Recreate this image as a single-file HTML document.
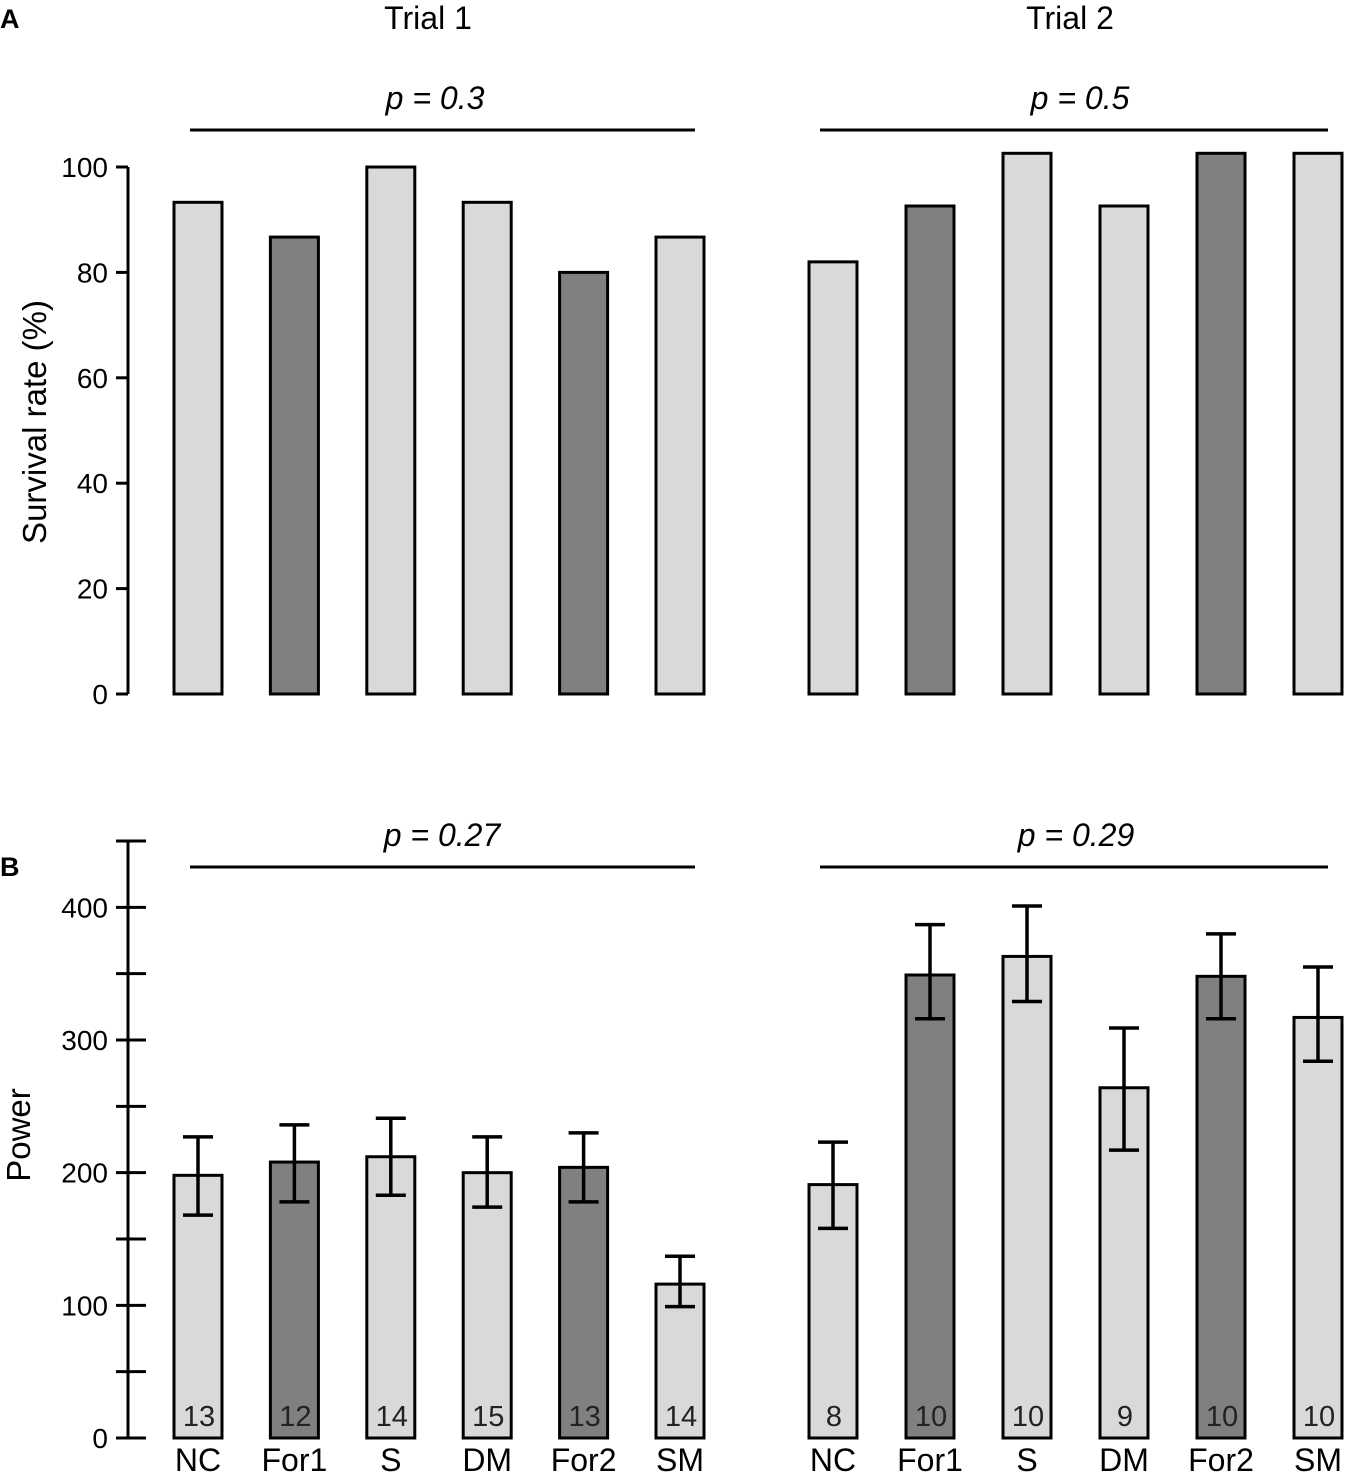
<!DOCTYPE html>
<html><head><meta charset="utf-8"><style>
body{margin:0;background:#fff}
svg{display:block;font-family:"Liberation Sans",Arial,sans-serif}
</style></head><body>
<svg id="chart" width="1350" height="1476" viewBox="0 0 1350 1476">
<text x="0" y="28" font-size="27" font-weight="bold">A</text>
<text x="0" y="876" font-size="27" font-weight="bold">B</text>
<text x="428" y="29" font-size="32" text-anchor="middle">Trial 1</text>
<text x="1070" y="29" font-size="32" text-anchor="middle">Trial 2</text>
<text transform="translate(46,422) rotate(-90)" font-size="33" text-anchor="middle">Survival rate (%)</text>
<text transform="translate(30,1135) rotate(-90)" font-size="33" text-anchor="middle">Power</text>
<g id="g"></g>
</svg>
<script>
const categories=["NC","For1","S","DM","For2","SM"];
const dark=[false,true,false,false,true,false];
const survT1=[93.3,86.7,100,93.3,80,86.7];
const survT2=[82,92.6,102.6,92.6,102.6,102.6];
const powT1=[198,208,212,200,204,116];
const powT1Lo=[168,178,183,174,178,99];
const powT1Hi=[227,236,241,227,230,137];
const powT2=[191,349,363,264,348,317];
const powT2Lo=[158,316,329,217,316,284];
const powT2Hi=[223,387,401,309,380,355];
const nT1=["13","12","14","15","13","14"];
const nT2=["8","10","10","9","10","10"];
const survTicks=[0,20,40,60,80,100];
const powTicks=[0,50,100,150,200,250,300,350,400,450];
const pVals=["p = 0.3","p = 0.5","p = 0.27","p = 0.29"];
const NS="http://www.w3.org/2000/svg";
const G=document.getElementById('g');
function mk(t,a,p){const e=document.createElementNS(NS,t);for(const k in a)e.setAttribute(k,a[k]);(p||G).appendChild(e);return e;}
const yA=v=>694-v*5.27;
const yB=v=>1438-v*(597/450);
const x1=i=>198+i*96.4, x2=i=>833+i*97;
const bw=48;
let ax=mk('line',{x1:128,x2:128,y1:167,y2:694,stroke:'#000','stroke-width':3});

survTicks.forEach(v=>{
 const t=mk('line',{x1:116,x2:128,y1:yA(v),y2:yA(v),stroke:'#000','stroke-width':3});
 
 const l=mk('text',{x:108,y:yA(v)+10,'font-size':28,'text-anchor':'end'});l.textContent=v;
 
});
let axb=mk('line',{x1:128,x2:128,y1:841,y2:1438,stroke:'#000','stroke-width':3});

powTicks.forEach((v,k)=>{
 const t=mk('line',{x1:116,x2:146,y1:yB(v),y2:yB(v),stroke:'#000','stroke-width':3});
 
 if(k%2===0){const l=mk('text',{x:108,y:yB(v)+10,'font-size':28,'text-anchor':'end'});l.textContent=v;
 }
});
function bars(vals,xf,yf,name){
 vals.forEach((v,i)=>{
  const b=mk('rect',{x:xf(i)-bw/2,y:yf(v),width:bw,height:yf(0)-yf(v),fill:dark[i]?'#808080':'#d9d9d9',stroke:'#000','stroke-width':3});
  
  
 });
}
bars(survT1,x1,yA,'survival-t1-bar');
bars(survT2,x2,yA,'survival-t2-bar');
bars(powT1,x1,yB,'power-t1-bar');
bars(powT2,x2,yB,'power-t2-bar');
function errs(lo,hi,xf,name){
 lo.forEach((l,i)=>{
  const x=xf(i);
  const e=mk('path',{d:`M${x} ${yB(lo[i])}V${yB(hi[i])}M${x-15} ${yB(lo[i])}h30M${x-15} ${yB(hi[i])}h30`,stroke:'#000','stroke-width':3.5,fill:'none'});
  
  
 });
}
errs(powT1Lo,powT1Hi,x1,'error-bar-t1');
errs(powT2Lo,powT2Hi,x2,'error-bar-t2');
function labels(ns,xf,name){
 ns.forEach((n,i)=>{
  const t=mk('text',{x:xf(i)+1,y:1426,'font-size':29,'text-anchor':'middle',fill:'#222'});t.textContent=n;
  
  const c=mk('text',{x:xf(i),y:1471,'font-size':32,'text-anchor':'middle'});c.textContent=categories[i];
  
 });
}
labels(nT1,x1,'t1');labels(nT2,x2,'t2');
[[190,695,130,435,pVals[0]],[820,1328,130,1080,pVals[1]],[190,695,867,442,pVals[2]],[820,1328,867,1076,pVals[3]]].forEach((p,k)=>{
 const l=mk('line',{x1:p[0],x2:p[1],y1:p[2],y2:p[2],stroke:'#000','stroke-width':3});
 
 const t=mk('text',{x:p[3],y:p[2]-21,'font-size':32,'font-style':'italic','text-anchor':'middle'});t.textContent=p[4];
 
});
</script>
</body></html>
